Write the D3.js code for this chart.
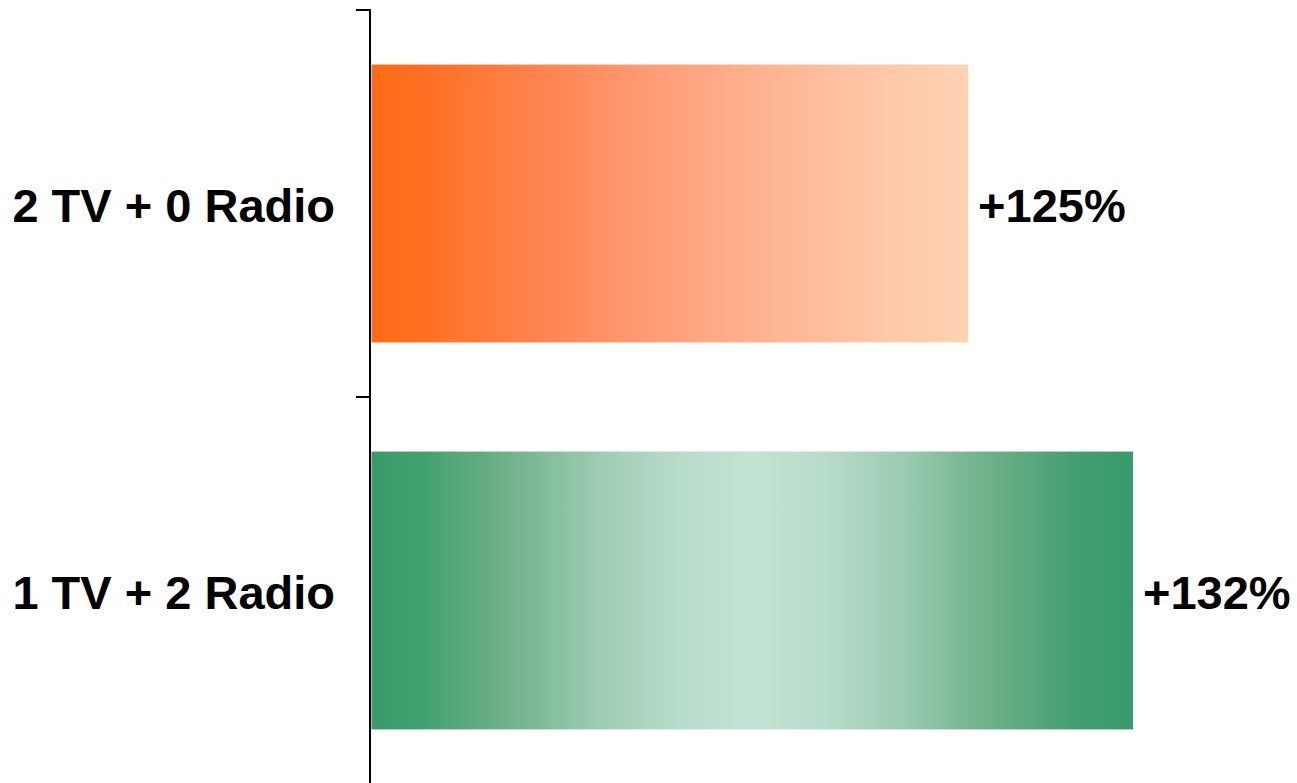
<!DOCTYPE html>
<html>
<head>
<meta charset="utf-8">
<script src="https://cdn.jsdelivr.net/npm/d3@7"></script>
<style>
  html, body { margin: 0; padding: 0; background: #fff; }
  svg { display: block; }
  text { font-family: "Liberation Sans", Arial, sans-serif; font-weight: bold; fill: #000; }
</style>
</head>
<body>
<svg id="chart" width="1297" height="783"></svg>
<script>
const categories = ["2 TV + 0 Radio", "1 TV + 2 Radio"];
const values = [125, 132];
const valueLabels = ["+125%", "+132%"];
const gradientIds = ["gradOrange", "gradGreen"];
const orangeStops = [[0, "#FF6A12"], [0.1, "#FF7127"], [0.3, "#FF8653"], [0.5, "#FFA07B"], [0.7, "#FFB896"], [0.85, "#FFC7A8"], [1, "#FFD3B4"]];
const greenStops = [[0, "#379A69"], [0.06, "#40A06F"], [0.18, "#70B18B"], [0.3, "#9ECCB4"], [0.4, "#B7DBCA"], [0.5, "#C3E3D4"], [0.6, "#B7DBCA"], [0.7, "#9ACAB2"], [0.8, "#72B28D"], [0.92, "#449E71"], [1, "#379A69"]];

const svg = d3.select("#chart");
const defs = svg.append("defs");
[[gradientIds[0], orangeStops], [gradientIds[1], greenStops]].forEach(([id, stops]) => {
  const g = defs.append("linearGradient").attr("id", id)
    .attr("x1", "0%").attr("x2", "100%").attr("y1", "0%").attr("y2", "0%");
  stops.forEach(([o, c]) => g.append("stop").attr("offset", o).attr("stop-color", c));
});

const axisX = 370;
const x = d3.scaleLinear().domain([99.67, 132]).range([371.5, 1133]);
const y = d3.scaleBand().domain(categories).range([10, 784]).paddingInner(0.282).paddingOuter(0.141);

// bars
svg.selectAll("rect.bar").data(categories).join("rect")
  .attr("class", "bar")
  .attr("x", x.range()[0])
  .attr("y", d => y(d))
  .attr("width", (d, i) => x(values[i]) - x.range()[0])
  .attr("height", y.bandwidth())
  .attr("fill", (d, i) => `url(#${gradientIds[i]})`);

// axis line and ticks at band boundaries
const step = y.step();
const boundaries = [10, 10 + step, 10 + 2 * step];
svg.append("line").attr("x1", axisX).attr("x2", axisX).attr("y1", 9).attr("y2", 784)
  .attr("stroke", "#000").attr("stroke-width", 2);
svg.selectAll("line.tick").data(boundaries).join("line")
  .attr("class", "tick")
  .attr("x1", 356).attr("x2", axisX + 1).attr("y1", d => d).attr("y2", d => d)
  .attr("stroke", "#000").attr("stroke-width", 2);

// category labels
svg.selectAll("text.cat").data(categories).join("text")
  .attr("class", "cat")
  .attr("x", 335)
  .attr("y", d => y(d) + y.bandwidth() / 2)
  .attr("dy", "0.4em")
  .attr("text-anchor", "end")
  .style("font-size", "47px")
  .text(d => d);

// value labels
svg.selectAll("text.val").data(categories).join("text")
  .attr("class", "val")
  .attr("x", (d, i) => x(values[i]) + 10)
  .attr("y", d => y(d) + y.bandwidth() / 2)
  .attr("dy", "0.4em")
  .style("font-size", "47px")
  .text((d, i) => valueLabels[i]);
</script>
</body>
</html>
